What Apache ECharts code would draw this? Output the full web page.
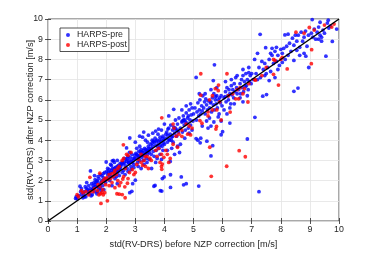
<!DOCTYPE html>
<html>
<head>
<meta charset="utf-8">
<script src="https://cdn.jsdelivr.net/npm/echarts@6/dist/echarts.min.js"></script>
<style>
html,body{margin:0;padding:0;background:#fff;}
#c{width:374px;height:254px;}
</style>
</head>
<body>
<div id="c"></div>
<script>
const xTicks = [0,1,2,3,4,5,6,7,8,9,10];
const yTicks = [0,1,2,3,4,5,6,7,8,9,10];
const seriesNames = ['HARPS-pre','HARPS-post'];
const xLabel = 'std(RV-DRS) before NZP correction [m/s]';
const yLabel = 'std(RV-DRS) after NZP correction [m/s]';
const diagonal = [[0,0],[10,10]];

const preData = [
[0.95,1.12],[0.97,1.2],[1.0,1.1],[1.05,1.25],[1.1,1.72],[1.15,1.3],[1.2,1.15],[1.25,1.45],[1.28,1.7],[1.3,1.2],
[1.35,1.55],[1.4,1.75],[1.42,1.35],[1.45,1.6],[1.48,1.25],[1.5,1.85],[1.15,1.6],[1.22,1.35],[1.38,1.45],[1.33,1.9],
[1.46,2.48],[1.52,1.3],[1.55,1.6],[1.58,1.9],[1.6,1.45],[1.62,2.05],[1.65,1.7],[1.68,1.35],[1.7,1.95],[1.72,2.2],
[1.75,1.6],[1.78,1.8],[1.8,2.3],[1.82,1.5],[1.85,2.0],[1.88,1.75],[1.9,2.15],[1.92,1.55],[1.95,2.4],[1.98,1.9],
[1.6,2.25],[1.7,1.45],[1.75,2.1],[1.85,2.25],[1.95,2.05],[1.55,1.75],[1.65,1.9],[1.8,1.65],[1.9,2.35],[2.0,2.1],
[1.12,1.45],[1.32,1.62],[1.52,1.55],[1.62,1.8],[1.72,1.7],[1.82,1.9],[1.92,2.0],[1.68,2.0],[1.58,1.65],[1.42,1.5],
[2.0,2.92],[2.05,2.3],[2.1,2.55],[2.12,2.0],[2.15,2.4],[2.18,2.75],[2.2,2.2],[2.22,2.6],[2.25,2.45],[2.28,2.9],
[2.3,2.3],[2.32,2.65],[2.35,2.5],[2.38,3.0],[2.4,2.4],[2.42,2.75],[2.45,2.55],[2.48,2.85],[2.1,2.15],[2.2,1.75],
[2.3,2.1],[2.38,1.85],[2.45,2.25],[2.15,2.8],[2.25,3.0],[2.05,2.6],[2.35,2.2],[2.48,2.6],[2.21,2.98],[1.25,1.2],
[2.08,2.4],[2.18,2.5],[2.28,2.6],[2.38,2.7],[2.12,2.3],[2.32,2.45],[2.42,2.55],[2.02,2.45],
[2.5,2.7],[2.55,2.9],[2.6,2.5],[2.62,3.1],[2.65,2.75],[2.7,2.95],[2.72,2.6],[2.75,3.2],[2.78,2.85],[2.8,3.0],
[2.85,2.7],[2.88,3.3],[2.9,2.9],[2.92,3.1],[2.95,2.8],[2.98,3.25],[2.55,2.4],[2.65,2.3],[2.75,2.45],[2.85,2.55],
[2.95,2.65],[2.8,3.4],[2.81,4.11],[2.7,3.62],[2.88,1.47],[2.81,1.4],[2.91,1.85],[3.0,2.02],[2.58,2.85],[2.68,3.05],
[2.52,2.8],[2.62,2.9],[2.72,3.1],[2.82,3.15],[2.92,3.0],[2.98,3.1],[2.86,2.95],[2.76,2.9],
[3.0,3.1],[3.05,3.3],[3.08,2.9],[3.1,3.2],[3.12,3.45],[3.15,3.0],[3.18,3.3],[3.2,3.55],[3.22,3.15],[3.25,3.4],
[3.28,3.0],[3.3,3.25],[3.32,3.6],[3.35,3.35],[3.38,3.1],[3.4,3.5],[3.42,3.3],[3.45,3.7],[3.48,3.4],[3.5,3.55],
[3.05,3.6],[3.15,3.7],[3.25,4.15],[3.35,4.0],[3.42,3.9],[3.1,2.7],[3.2,2.6],[3.3,2.8],[3.4,2.9],[3.48,3.05],
[3.29,4.4],[3.15,4.2],[3.0,3.9],[3.45,4.25],[3.56,2.6],[3.02,3.35],[3.12,3.15],[3.22,3.4],[3.38,3.45],[3.46,3.6],
[3.08,3.25],[3.18,3.45],[3.28,3.5],[3.36,3.55],[3.44,3.45],[3.24,3.25],
[3.52,3.8],[3.55,3.6],[3.58,4.0],[3.6,3.7],[3.62,3.45],[3.65,3.9],[3.68,4.1],[3.7,3.75],[3.72,3.5],[3.75,4.0],
[3.78,4.3],[3.8,3.85],[3.82,3.6],[3.85,4.15],[3.88,3.95],[3.9,4.5],[3.92,3.7],[3.95,4.2],[3.98,4.0],[3.6,4.35],
[3.7,4.45],[3.8,4.55],[3.55,3.3],[3.65,3.2],[3.75,3.1],[3.85,3.3],[3.95,3.5],[3.9,3.05],[3.7,2.9],[3.68,1.76],
[3.64,1.72],[3.91,1.48],[3.86,1.5],[3.99,2.18],[3.93,2.1],[4.21,2.29],[3.58,3.85],[3.72,3.95],[3.86,3.75],[3.96,3.85],
[3.62,3.95],[3.76,3.7],[3.84,4.0],[3.94,4.1],
[4.0,3.8],[4.05,4.1],[4.08,4.4],[4.1,3.9],[4.12,4.25],[4.15,4.6],[4.18,4.0],[4.2,4.3],[4.22,4.75],[4.25,4.15],
[4.28,4.5],[4.3,3.9],[4.32,4.65],[4.35,4.35],[4.38,5.0],[4.4,4.5],[4.42,4.2],[4.45,4.8],[4.48,4.4],[4.32,5.53],
[4.15,5.2],[4.0,4.8],[4.5,5.1],[4.1,3.5],[4.25,3.6],[4.45,3.7],[4.35,3.3],[4.2,2.95],[4.52,3.39],[4.21,1.66],
[4.58,2.18],[4.75,1.85],[4.66,1.79],[4.05,4.3],[4.15,4.05],[4.28,4.2],[4.38,4.6],[4.46,4.5],[4.12,4.55],[4.24,4.0],
[4.55,4.6],[4.6,4.9],[4.62,4.4],[4.65,5.2],[4.68,4.75],[4.7,5.0],[4.72,4.5],[4.75,5.35],[4.78,4.85],[4.8,5.1],
[4.82,4.6],[4.85,5.5],[4.88,5.0],[4.9,4.75],[4.92,5.25],[4.95,5.6],[4.98,4.95],[4.6,5.5],[4.75,5.7],[4.9,5.8],
[4.55,3.8],[4.7,4.1],[4.85,4.35],[4.95,4.5],[4.62,4.95],[4.72,4.9],[4.82,5.2],[4.66,5.0],
[5.09,7.11],[5.0,5.3],[5.05,5.6],[5.1,5.0],[5.12,5.4],[5.15,5.85],[5.18,5.2],[5.2,5.5],[5.22,6.0],[5.25,5.3],
[5.28,5.7],[5.3,5.45],[5.32,6.2],[5.35,5.6],[5.38,5.9],[5.4,5.3],[5.42,6.05],[5.45,5.75],[5.48,5.5],[5.5,5.95],
[5.09,4.08],[5.23,3.87],[5.3,4.7],[5.45,4.95],[5.2,6.3],[5.4,6.3],[5.18,1.73],[5.46,3.95],[5.25,4.1],[5.15,4.0],
[5.55,5.6],[5.6,5.9],[5.62,5.4],[5.65,6.1],[5.68,5.75],[5.7,6.3],[5.72,5.5],[5.75,6.0],[5.78,5.8],[5.8,6.2],
[5.82,5.6],[5.85,6.0],[5.88,5.3],[5.9,6.1],[5.92,5.85],[5.95,6.2],[5.98,5.7],[5.6,6.5],[5.8,6.6],[5.68,6.95],
[5.6,4.7],[5.7,4.9],[5.55,5.1],[5.95,4.95],[5.85,5.15],[5.66,3.73],[5.6,3.22],[5.95,4.27],[6.0,4.42],[5.72,7.73],
[5.5,4.6],[5.58,5.85],[5.76,6.15],
[6.05,6.1],[6.1,6.4],[6.12,5.9],[6.15,6.6],[6.18,6.2],[6.2,6.0],[6.22,6.5],[6.25,6.3],[6.28,5.8],[6.3,6.7],
[6.32,6.25],[6.35,6.5],[6.38,6.1],[6.4,6.8],[6.42,6.4],[6.45,7.1],[6.48,6.6],[6.5,6.3],[6.05,5.5],[6.15,5.3],
[6.25,5.6],[6.25,4.85],[6.4,5.8],[6.5,7.2],[6.3,7.0],[6.1,6.9],[6.08,6.15],
[6.55,6.5],[6.6,6.8],[6.62,6.3],[6.65,7.0],[6.68,6.6],[6.7,7.2],[6.72,6.4],[6.75,6.9],[6.78,6.65],[6.8,7.3],
[6.82,6.7],[6.85,7.0],[6.88,6.5],[6.9,7.35],[6.92,6.9],[6.95,7.2],[6.98,6.8],[6.6,6.1],[6.7,5.9],[6.85,6.2],
[6.7,7.5],[6.9,7.6],[6.85,4.06],
[7.0,7.3],[7.05,7.0],[7.1,8.0],[7.15,7.3],[7.2,8.3],[7.25,7.6],[7.3,7.1],[7.35,7.9],[7.4,7.5],[7.45,7.8],
[7.48,8.58],[7.5,7.3],[7.2,7.0],[7.45,7.2],[7.29,9.24],[7.11,5.13],[7.25,1.45],[7.51,6.26],[7.38,6.18],
[7.55,7.6],[7.6,8.0],[7.65,7.4],[7.7,8.2],[7.75,7.8],[7.8,8.4],[7.85,7.9],[7.9,8.2],[7.95,7.7],[8.0,8.5],
[7.7,8.55],[7.85,8.6],[7.65,8.3],[7.9,7.5],[7.6,6.95],[7.8,7.1],
[8.05,8.3],[8.1,8.55],[8.15,8.0],[8.2,8.65],[8.25,8.2],[8.3,8.8],[8.35,8.4],[8.4,9.05],[8.45,8.7],[8.5,9.2],
[8.14,9.21],[8.25,9.25],[8.45,7.95],[8.05,7.85],[8.59,6.58],[8.45,6.42],
[8.55,8.9],[8.6,9.2],[8.65,8.6],[8.7,9.35],[8.75,8.9],[8.8,9.1],[8.85,9.4],[8.9,8.65],[8.95,9.2],[8.65,8.2],
[8.8,8.3],[8.86,8.16],[8.55,8.45],
[9.05,9.3],[9.1,9.1],[9.15,9.5],[9.2,9.0],[9.25,9.35],[9.3,9.6],[9.35,9.2],[9.4,8.9],[9.45,9.45],[9.5,9.3],
[9.6,9.8],[9.65,9.55],[9.7,9.65],[9.92,9.5],[9.3,9.0],[9.4,9.1],[9.08,9.97],[9.63,9.94],[9.35,9.84],[9.77,8.89],
[9.55,8.16],[8.96,7.6]
];

const postData = [
[1.0,1.3],[1.05,1.2],[1.15,1.5],[1.3,1.45],[1.2,1.4],[1.45,1.45],[1.4,1.3],
[1.55,1.45],[1.6,1.6],[1.7,1.5],[1.75,1.3],[1.8,1.35],[1.85,1.4],[1.9,1.3],[1.95,1.4],[1.82,0.87],[2.04,1.0],
[1.72,1.8],[1.85,1.9],[1.9,2.0],[1.95,2.1],[1.44,2.16],[1.78,2.37],[1.88,1.55],[1.98,1.8],[1.78,1.7],
[2.05,2.05],[2.1,2.3],[2.15,2.1],[2.2,2.35],[2.25,2.2],[2.3,2.5],[2.35,2.3],[2.4,2.6],[2.45,2.7],[2.1,1.75],
[2.2,1.9],[2.3,1.65],[2.4,2.0],[2.45,1.75],[2.5,1.9],[2.37,1.35],[2.45,1.33],[2.55,1.31],[2.65,1.15],[2.64,1.69],
[2.73,1.87],[2.57,2.08],[2.02,2.15],[2.28,2.4],
[2.55,3.0],[2.6,3.1],[2.7,3.3],[2.75,3.25],[2.85,3.4],[2.65,2.6],[2.8,2.4],[2.9,2.55],[2.95,2.3],[3.0,2.4],
[2.75,2.1],[2.6,2.2],[2.59,3.77],
[3.05,2.8],[3.1,3.05],[3.2,2.9],[3.3,3.0],[3.35,2.7],[3.4,3.2],[3.45,2.6],[3.25,2.75],[3.2,3.3],[3.34,3.19],[3.5,3.11],
[3.55,3.0],[3.7,3.5],[3.8,3.6],[3.9,3.3],[3.91,5.11],[3.85,2.9],[3.75,3.2],[3.98,3.15],[3.9,2.7],[3.91,2.56],[3.93,2.82],
[4.05,3.5],[4.1,3.3],[4.2,3.1],[4.15,2.9],[4.3,3.8],[4.4,4.2],[4.3,4.8],[4.33,4.6],[4.5,4.3],[4.45,3.65],[4.6,4.19],
[4.6,4.5],[4.75,4.8],[4.85,4.7],[4.95,4.6],[4.8,4.3],[4.9,4.26],
[5.25,6.23],[5.25,7.29],[5.29,4.84],[5.22,4.97],[5.5,5.4],[5.5,5.2],
[5.75,6.55],[5.85,6.45],[5.86,6.73],[5.65,5.5],[5.8,5.5],[5.9,5.9],[5.79,4.68],[5.77,4.55],[5.95,5.0],[5.55,6.0],[5.65,6.2],
[5.56,3.65],[5.61,2.21],
[6.15,7.29],[6.2,6.2],[6.35,6.3],[6.45,6.05],[6.26,5.39],[6.5,6.5],[6.57,3.48],[6.78,3.18],[6.14,2.71],
[6.6,6.6],[6.75,6.55],[6.87,5.89],[6.9,6.8],[6.55,6.05],[6.7,6.3],
[7.13,6.97],[7.35,7.2],[7.5,7.6],[7.1,7.0],
[7.8,7.95],[7.75,8.0],[7.75,7.26],[7.92,6.73],[8.0,8.0],[8.05,8.1],[8.22,7.53],
[8.52,9.35],[8.8,9.3],[9.05,7.79],[9.06,8.48],[8.98,9.58],[9.15,9.45],[9.75,9.6],[9.83,9.75],[9.5,9.7]
];

const chart = echarts.init(document.getElementById('c'), null, {renderer:'canvas'});
const fontFamily = '"Liberation Sans", Arial, Helvetica, sans-serif';
const txt = '#262626';
chart.setOption({
  animation: false,
  backgroundColor: '#fff',
  grid: {left: 48, right: 35, top: 19, bottom: 28, show: true, borderColor: '#262626', borderWidth: 0.8, backgroundColor: 'transparent'},
  legend: {
    orient: 'vertical', left: 60, top: 28,
    data: seriesNames,
    icon: 'circle', itemWidth: 10, itemHeight: 4, itemGap: 1,
    padding: [2.5, 2, 2, 6],
    backgroundColor: '#fff', borderColor: '#262626', borderWidth: 0.8, borderRadius: 0,
    textStyle: {fontSize: 8.8, color: txt, fontFamily: fontFamily, padding: [0,0,0,-1]}
  },
  xAxis: [{
    type: 'value', min: xTicks[0], max: xTicks[xTicks.length-1], interval: 1,
    name: xLabel, nameLocation: 'middle', nameGap: 19, nameMoveOverlap: false,
    nameTextStyle: {fontSize: 9.2, color: txt, fontFamily: fontFamily},
    axisLine: {show: false},
    axisTick: {show: true, inside: true, length: 3, lineStyle: {color: '#262626', width: 0.8}},
    axisLabel: {fontSize: 8.8, color: txt, fontFamily: fontFamily, margin: 4},
    splitLine: {show: true, lineStyle: {color: '#e3e3e3', width: 0.8}}
  },{
    type: 'value', position: 'top', min: 0, max: 10, interval: 1,
    axisLine: {show: false}, axisLabel: {show: false}, splitLine: {show: false},
    axisTick: {show: true, inside: true, length: 3, lineStyle: {color: '#262626', width: 0.8}}
  }],
  yAxis: [{
    type: 'value', min: yTicks[0], max: yTicks[yTicks.length-1], interval: 1,
    name: yLabel, nameLocation: 'middle', nameGap: 13, nameMoveOverlap: false,
    nameTextStyle: {fontSize: 9.2, color: txt, fontFamily: fontFamily},
    axisLine: {show: false},
    axisTick: {show: true, inside: true, length: 3, lineStyle: {color: '#262626', width: 0.8}},
    axisLabel: {fontSize: 8.8, color: txt, fontFamily: fontFamily, margin: 5},
    splitLine: {show: true, lineStyle: {color: '#e3e3e3', width: 0.8}}
  },{
    type: 'value', position: 'right', min: 0, max: 10, interval: 1,
    axisLine: {show: false}, axisLabel: {show: false}, splitLine: {show: false},
    axisTick: {show: true, inside: true, length: 3, lineStyle: {color: '#262626', width: 0.8}}
  }],
  series: [
    {name: seriesNames[0], type: 'scatter', data: preData, symbol: 'circle', symbolSize: 3.8,
     itemStyle: {color: '#0000ff'}, z: 2},
    {name: seriesNames[1], type: 'scatter', data: postData, symbol: 'circle', symbolSize: 3.8,
     itemStyle: {color: '#ff0000'}, z: 3},
    {type: 'line', data: diagonal, symbol: 'none', silent: true,
     lineStyle: {color: '#000', width: 1.4}, z: 4}
  ]
});
</script>
</body>
</html>
